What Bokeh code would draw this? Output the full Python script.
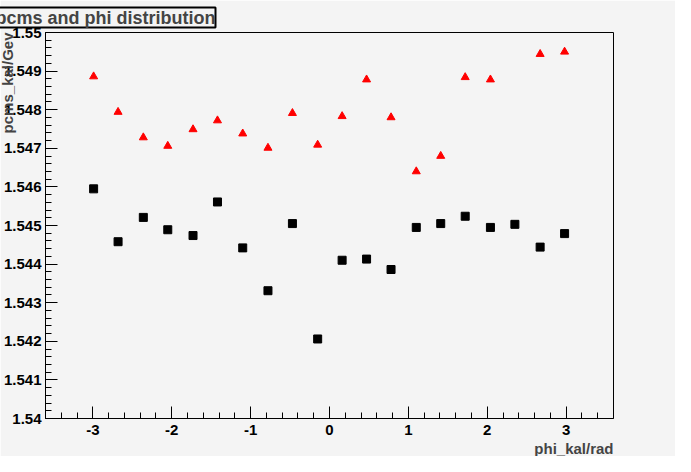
from bokeh.plotting import figure
from bokeh.models import FixedTicker, Range1d, Title
from bokeh.embed import file_html
from bokeh.resources import INLINE

phi = [-2.99, -2.68, -2.36, -2.05, -1.73, -1.42, -1.10, -0.78, -0.47, -0.15,
       0.16, 0.47, 0.78, 1.10, 1.41, 1.72, 2.04, 2.35, 2.67, 2.98]
pcms_black = [1.54595, 1.54458, 1.54521, 1.54489, 1.54474, 1.54561, 1.54442, 1.54331, 1.54505, 1.54206,
              1.54410, 1.54413, 1.54386, 1.54495, 1.54505, 1.54524, 1.54495, 1.54503, 1.54444, 1.54479]
phi_red = [-2.99, -2.68, -2.36, -2.05, -1.73, -1.42, -1.10, -0.78, -0.47, -0.15,
           0.16, 0.47, 0.78, 1.10, 1.41, 1.72, 2.04, 2.67, 2.98]
pcms_red = [1.54886, 1.54794, 1.54728, 1.54706, 1.54749, 1.54772, 1.54738, 1.54701, 1.54791, 1.54709,
            1.54783, 1.54878, 1.54780, 1.54640, 1.54680, 1.54884, 1.54878, 1.54944, 1.54950]
y_ticks = [1.540, 1.541, 1.542, 1.543, 1.544, 1.545, 1.546, 1.547, 1.548, 1.549, 1.550]
y_tick_labels = ["1.54", "1.541", "1.542", "1.543", "1.544", "1.545", "1.546", "1.547", "1.548", "1.549", "1.55"]
x_ticks = [-3, -2, -1, 0, 1, 2, 3]
x_tick_labels = ["-3", "-2", "-1", "0", "1", "2", "3"]

BG = "#f4f4f4"
FONT = "Liberation Sans"
p = figure(width=675, height=456, output_backend="svg", toolbar_location=None,
           x_range=Range1d(-3.6, 3.6), y_range=Range1d(1.54, 1.55),
           min_border_left=5, min_border_right=62, min_border_top=5, min_border_bottom=5,
           background_fill_color=BG, border_fill_color=BG)
p.grid.visible = False
p.outline_line_color = "black"

for ax in (p.xaxis[0], p.yaxis[0]):
    ax.major_tick_in = 12
    ax.major_tick_out = 0
    ax.minor_tick_in = 6
    ax.minor_tick_out = 0
    ax.major_label_text_font = FONT
    ax.major_label_text_font_style = "bold"
    ax.major_label_text_font_size = "15px"
    ax.major_label_text_color = "black"
    ax.axis_line_color = "black"

minors_x = [-4 + i * 0.2 for i in range(45)]
p.xaxis[0].ticker = FixedTicker(ticks=x_ticks, minor_ticks=[v for v in minors_x if -3.6 <= v <= 3.6])
p.yaxis[0].ticker = FixedTicker(ticks=y_ticks, minor_ticks=[1.54 + i * 0.0002 for i in range(51)])
p.yaxis[0].major_label_overrides = {t: l for t, l in zip(y_ticks, y_tick_labels)}
p.xaxis[0].major_label_overrides = {t: l for t, l in zip(x_ticks, x_tick_labels)}
p.xaxis[0].major_label_standoff = 6
p.yaxis[0].major_label_standoff = 4

p.scatter(phi, pcms_black, marker="square", size=8, color="black")
p.scatter(phi_red, pcms_red, marker="triangle", size=8, color="red")

p.add_layout(Title(text="phi_kal/rad", align="right", text_font=FONT, text_font_style="bold",
                   text_font_size="15px", offset=0, standoff=0), "below")
p.add_layout(Title(text="pcms_kal/Gev", align="right", text_font=FONT, text_font_style="bold",
                   text_font_size="15px", offset=0, standoff=-30), "left")
p.add_layout(Title(text="pcms and phi distribution", align="left", text_font=FONT,
                   text_font_style="bold", text_font_size="18px", offset=-50,
                   background_fill_color=BG, border_line_color="black", border_line_width=2,
                   standoff=10), "above")

open("out.html", "w").write(file_html(p, INLINE))
